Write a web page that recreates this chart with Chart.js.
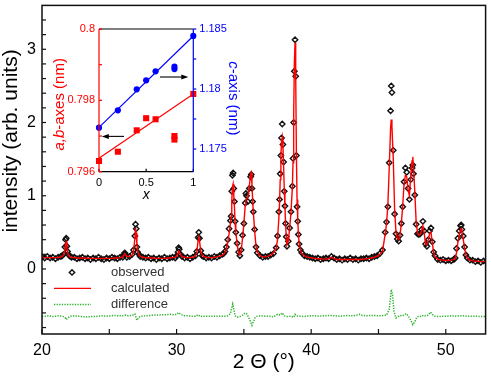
<!DOCTYPE html>
<html><head><meta charset="utf-8">
<script src="https://cdn.jsdelivr.net/npm/chart.js@4/dist/chart.umd.min.js"></script>
<style>
html,body{margin:0;padding:0;background:#fff;}
#wrap{position:relative;width:491px;height:378px;overflow:hidden;}
#main{position:absolute;left:0;top:0;}
#inset{position:absolute;left:40px;top:18px;}
</style>
</head><body>
<div id="wrap">
<canvas id="main" width="491" height="378"></canvas>
<canvas id="inset" width="220" height="192"></canvas>
</div>
<script>
// ---------- main pattern data ----------
const twoTheta = [
 20.0,20.2,20.4,20.6,20.8,21.0,21.2,21.4,
 21.5,21.6,21.7,21.75,21.8,21.85,21.9,22.0,22.1,22.2,
 22.4,22.6,22.8,23.0,23.2,23.4,23.6,23.8,24.0,24.2,24.4,24.6,24.8,25.0,25.2,25.4,25.6,25.8,
 26.0,26.1,26.15,26.2,26.3,26.5,26.7,26.8,26.9,26.95,27.0,27.05,27.1,27.2,27.3,27.5,
 27.7,27.9,28.1,28.3,28.5,28.7,28.9,29.1,29.3,29.5,29.7,29.9,
 30.0,30.1,30.15,30.2,30.3,30.4,
 30.6,30.8,31.0,31.2,31.4,
 31.5,31.6,31.65,31.7,31.8,31.9,32.0,32.2,
 32.4,32.6,32.8,33.0,33.2,33.4,
 33.5,33.6,33.7,33.8,33.9,34.0,34.05,34.1,34.15,34.2,34.25,34.3,34.35,34.4,34.5,34.6,34.7,34.8,34.9,35.0,
 35.1,35.15,35.2,35.3,35.4,35.5,35.55,35.6,35.65,35.7,35.8,35.9,36.0,36.2,36.4,36.6,36.8,37.0,37.2,37.4,
 37.5,37.6,37.65,37.7,37.75,37.8,37.85,37.9,37.95,38.0,38.05,38.1,38.15,38.2,38.3,38.4,38.5,38.6,38.65,38.7,
 38.75,38.8,38.85,38.9,38.95,39.0,39.05,39.1,39.2,39.3,39.5,39.7,
 39.9,40.1,40.3,40.5,40.7,40.9,41.1,41.3,41.5,41.7,41.9,42.1,42.3,42.5,42.7,42.9,43.1,43.3,43.5,43.7,43.9,44.1,44.3,44.5,44.7,44.9,45.1,
 45.3,45.5,45.6,45.7,45.8,45.9,45.95,46.0,46.1,46.2,
 46.3,46.4,46.5,46.6,46.7,46.8,46.9,47.0,47.1,47.2,
 47.3,47.4,47.5,47.55,47.6,47.7,47.8,47.9,48.0,48.1,
 48.2,48.3,48.4,48.5,48.6,48.7,48.8,48.9,49.0,49.1,49.2,49.4,49.6,
 49.8,50.0,50.2,50.4,50.6,
 50.7,50.8,50.9,51.0,51.1,51.15,51.2,51.3,51.4,51.5,51.6,51.8,
 52.0,52.2,52.4,52.6,52.8,53.0
];
const observed = [
 0.16,0.15,0.17,0.15,0.16,0.14,0.16,0.17,
 0.18,0.20,0.30,0.40,0.42,0.31,0.24,0.19,0.17,0.16,
 0.16,0.14,0.15,0.16,0.14,0.15,0.13,0.15,0.14,0.16,0.14,0.13,0.15,0.14,0.16,0.15,0.14,0.16,
 0.16,0.20,0.22,0.20,0.16,0.17,0.20,0.26,0.45,0.61,0.55,0.30,0.23,0.20,0.17,0.16,
 0.15,0.16,0.14,0.15,0.13,0.15,0.14,0.16,0.14,0.15,0.16,0.15,
 0.18,0.23,0.29,0.27,0.20,0.17,
 0.15,0.16,0.14,0.16,0.18,
 0.24,0.43,0.50,0.42,0.25,0.18,0.17,0.15,
 0.16,0.15,0.17,0.16,0.18,0.20,
 0.21,0.24,0.30,0.40,0.55,0.66,0.72,1.06,1.28,1.31,1.10,0.92,0.65,0.50,0.35,0.23,0.18,0.26,0.46,0.62,
 0.90,1.03,1.00,0.92,1.10,1.26,1.29,1.10,0.92,0.78,0.54,0.30,0.22,0.18,0.16,0.17,0.17,0.19,0.21,0.29,
 0.45,0.78,0.95,1.30,1.55,1.79,1.98,1.70,1.46,1.06,0.86,0.62,0.44,0.31,0.38,0.56,0.78,1.13,1.51,2.00,
 2.70,3.13,2.63,1.55,0.85,0.65,0.47,0.34,0.26,0.22,0.18,0.17,
 0.16,0.15,0.14,0.15,0.13,0.14,0.15,0.14,0.17,0.15,0.13,0.14,0.12,0.14,0.13,0.15,0.13,0.14,0.12,0.14,0.14,0.15,0.14,0.16,0.17,0.18,0.21,
 0.26,0.50,0.64,0.85,1.45,2.16,2.50,2.41,1.62,0.75,
 0.48,0.41,0.38,0.46,0.62,0.85,1.19,1.38,1.32,1.10,
 0.95,1.22,1.38,1.42,1.30,1.01,0.61,0.48,0.47,0.48,
 0.54,0.65,0.52,0.34,0.31,0.40,0.52,0.56,0.37,0.23,0.18,0.13,0.12,
 0.13,0.11,0.12,0.11,0.13,
 0.15,0.28,0.42,0.52,0.59,0.60,0.54,0.45,0.30,0.19,0.15,0.12,
 0.12,0.10,0.11,0.09,0.11,0.10
];
const calculated = [
 0.155,0.155,0.155,0.155,0.155,0.155,0.158,0.163,
 0.17,0.19,0.265,0.35,0.37,0.28,0.22,0.18,0.165,0.16,
 0.155,0.15,0.15,0.15,0.15,0.145,0.145,0.145,0.145,0.145,0.145,0.145,0.145,0.145,0.145,0.15,0.15,0.155,
 0.165,0.195,0.205,0.195,0.17,0.17,0.19,0.235,0.42,0.56,0.49,0.34,0.25,0.19,0.175,0.16,
 0.155,0.15,0.15,0.15,0.145,0.145,0.145,0.145,0.15,0.15,0.155,0.16,
 0.175,0.21,0.245,0.24,0.19,0.17,
 0.16,0.155,0.155,0.16,0.175,
 0.23,0.39,0.46,0.39,0.23,0.19,0.17,0.16,
 0.155,0.155,0.16,0.165,0.175,0.19,
 0.20,0.23,0.28,0.36,0.48,0.62,0.72,0.92,1.12,1.16,1.00,0.84,0.62,0.50,0.34,0.23,0.19,0.25,0.42,0.62,
 0.87,0.95,0.96,0.98,1.12,1.30,1.32,1.15,0.95,0.78,0.52,0.31,0.23,0.18,0.165,0.165,0.175,0.19,0.22,0.28,
 0.40,0.70,0.90,1.22,1.55,1.74,1.80,1.68,1.42,1.08,0.85,0.60,0.44,0.33,0.38,0.55,0.78,1.10,1.45,2.10,
 2.80,3.09,2.65,1.60,0.95,0.68,0.48,0.36,0.26,0.21,0.18,0.16,
 0.155,0.15,0.145,0.14,0.14,0.135,0.135,0.14,0.16,0.14,0.13,0.13,0.13,0.13,0.13,0.13,0.13,0.13,0.13,0.13,0.135,0.14,0.145,0.15,0.16,0.175,0.20,
 0.24,0.48,0.62,0.88,1.38,1.92,2.04,1.95,1.50,0.82,
 0.50,0.42,0.40,0.46,0.62,0.86,1.16,1.28,1.26,1.08,
 1.00,1.28,1.48,1.53,1.40,1.05,0.64,0.50,0.46,0.47,
 0.52,0.59,0.49,0.34,0.33,0.40,0.48,0.50,0.36,0.22,0.17,0.135,0.125,
 0.12,0.115,0.115,0.12,0.13,
 0.14,0.22,0.36,0.46,0.54,0.55,0.50,0.40,0.28,0.19,0.15,0.12,
 0.11,0.105,0.105,0.10,0.10,0.10
];
const diffTheta = [
 20.0,20.25,20.5,20.75,21.0,21.25,21.5,21.7,21.8,21.9,
 22.1,22.4,22.7,23.0,23.3,23.6,23.9,24.2,24.5,24.8,
 25.1,25.4,25.7,26.0,26.2,26.4,26.7,26.9,27.05,27.2,
 27.4,27.7,28.0,28.3,28.6,28.9,29.2,29.5,29.8,30.0,
 30.15,30.3,30.5,30.8,31.1,31.4,31.6,31.75,32.0,32.3,
 32.6,32.9,33.2,33.5,33.8,34.0,34.1,34.17,34.25,34.35,
 34.5,34.7,34.9,35.1,35.2,35.35,35.5,35.6,35.7,35.85,
 36.0,36.3,36.6,36.9,37.2,37.5,37.7,37.85,38.0,38.2,
 38.5,38.7,38.8,38.9,39.1,39.4,39.7,40.0,40.3,40.6,
 40.9,41.2,41.5,41.8,42.1,42.4,42.7,43.0,43.3,43.6,
 43.8,44.1,44.4,44.7,45.0,45.3,45.6,45.8,45.9,45.95,
 46.05,46.15,46.3,46.45,46.6,46.75,46.9,47.05,47.2,47.4,
 47.55,47.7,47.85,48.0,48.2,48.35,48.5,48.7,48.87,49.0,
 49.2,49.5,49.8,50.1,50.4,50.7,51.0,51.3,51.6,51.9,
 52.2,52.5,52.8,53.0
];
const difference = [
 -0.65,-0.645,-0.64,-0.65,-0.645,-0.64,-0.645,-0.66,-0.69,-0.67,
 -0.645,-0.64,-0.645,-0.65,-0.655,-0.65,-0.65,-0.645,-0.64,-0.645,
 -0.64,-0.635,-0.64,-0.64,-0.63,-0.64,-0.635,-0.615,-0.70,-0.66,
 -0.645,-0.64,-0.635,-0.63,-0.63,-0.625,-0.625,-0.62,-0.625,-0.62,
 -0.595,-0.62,-0.635,-0.64,-0.645,-0.645,-0.625,-0.65,-0.645,-0.645,
 -0.645,-0.645,-0.645,-0.645,-0.64,-0.61,-0.53,-0.48,-0.55,-0.64,
 -0.66,-0.65,-0.63,-0.60,-0.61,-0.66,-0.72,-0.77,-0.72,-0.66,
 -0.645,-0.64,-0.645,-0.645,-0.655,-0.62,-0.63,-0.60,-0.64,-0.65,
 -0.645,-0.66,-0.62,-0.64,-0.645,-0.65,-0.645,-0.64,-0.64,-0.645,
 -0.64,-0.635,-0.635,-0.64,-0.645,-0.64,-0.635,-0.64,-0.635,-0.62,
 -0.635,-0.64,-0.635,-0.635,-0.64,-0.635,-0.63,-0.55,-0.38,-0.28,
 -0.36,-0.58,-0.67,-0.65,-0.635,-0.64,-0.63,-0.61,-0.64,-0.70,
 -0.76,-0.72,-0.66,-0.645,-0.65,-0.63,-0.64,-0.63,-0.59,-0.62,
 -0.645,-0.65,-0.645,-0.645,-0.64,-0.645,-0.64,-0.64,-0.645,-0.645,
 -0.645,-0.65,-0.65,-0.65
];
const legendLabels = ['observed','calculated','difference'];
const xAxisTitle = '2 \u0398 (\u00b0)';
const yAxisTitle = 'intensity (arb. units)';
const xTickValues = [20,25,30,35,40,45,50];
const xLabelTicks = [20,30,40,50];
const yTickValues = [-0.8,-0.6,-0.4,-0.2,0,0.2,0.4,0.6,0.8,1,1.2,1.4,1.6,1.8,2,2.2,2.4,2.6,2.8,3,3.2,3.4];
const yLabelTicks = [0,1,2,3];

// ---------- inset data ----------
const insetX = [0,0.2,0.4,0.5,0.6,0.8,0.8,1];
const abAxes = [0.79630,0.79656,0.79716,0.79750,0.79747,0.79700,0.79690,0.79818];
const cAxisX = [0,0.2,0.4,0.5,0.6,0.8,0.8,1];
const cAxis = [1.17678,1.17822,1.17997,1.18072,1.18147,1.18186,1.18166,1.18442];
const abFitX = [0,1];
const abFit = [0.79638,0.79818];
const cFitX = [0,1];
const cFit = [1.17680,1.18442];
const insetXTicks = [0,0.5,1];
const abTicks = [0.796,0.797,0.798,0.799,0.8];
const abLabels = [0.796,0.798,0.8];
const cTicks = [1.175,1.1775,1.18,1.1825,1.185];
const cLabels = [1.175,1.18,1.185];

const FONT = "'Liberation Sans', Arial, Helvetica, sans-serif";
const RED = '#ff0000', BLUE = '#0000ff', GREEN = '#2db42d';

function fmt(v, list){ const hit = list.find(l=>Math.abs(l-v)<1e-7); return hit===undefined ? '' : String(hit); }
function noPad(s){ s.paddingTop=0; s.paddingBottom=0; s.paddingLeft=0; s.paddingRight=0; }
function setTicks(list){ return s=>{ s.ticks = list.map(v=>({value:v})); }; }

// ---------- main chart ----------
const mainFrame = {
  id:'mainFrame',
  afterDraw(chart){
    const {ctx, chartArea:a, scales:{x,y}} = chart;
    ctx.save();
    ctx.strokeStyle='#111'; ctx.lineWidth=1.5;
    ctx.strokeRect(a.left,a.top,a.right-a.left,a.bottom-a.top);
    ctx.lineWidth=1.2;
    x.ticks.forEach(t=>{
      const px=x.getPixelForValue(t.value);
      ctx.beginPath(); ctx.moveTo(px,a.bottom); ctx.lineTo(px,a.bottom-5); ctx.stroke();
    });
    y.ticks.forEach(t=>{
      const py=y.getPixelForValue(t.value);
      ctx.beginPath(); ctx.moveTo(a.left,py); ctx.lineTo(a.left+4,py); ctx.stroke();
    });
    ctx.fillStyle='#000'; ctx.font='21px '+FONT;
    ctx.textAlign='center'; ctx.textBaseline='middle';
    ctx.translate(11,141); ctx.rotate(-Math.PI/2);
    ctx.fillText(yAxisTitle,0,0);
    ctx.restore();
  }
};
const mainLegend = {
  id:'mainLegend',
  afterDraw(chart){
    const {ctx, chartArea:a} = chart;
    const ds = chart.data.datasets;
    const x0=a.left+12, x1=a.left+49, mx=a.left+30, tx=a.left+69;
    const rows=[a.top+267, a.top+283, a.top+299];
    ctx.save();
    const obs = ds.find(d=>d.label===legendLabels[0]);
    ctx.strokeStyle=obs.borderColor; ctx.lineWidth=obs.borderWidth;
    const r=obs.pointRadius;
    ctx.beginPath(); ctx.moveTo(mx,rows[0]-r); ctx.lineTo(mx+r,rows[0]); ctx.lineTo(mx,rows[0]+r); ctx.lineTo(mx-r,rows[0]); ctx.closePath(); ctx.stroke();
    const calc = ds.find(d=>d.label===legendLabels[1]);
    ctx.strokeStyle=calc.borderColor; ctx.lineWidth=calc.borderWidth;
    ctx.beginPath(); ctx.moveTo(x0,rows[1]); ctx.lineTo(x1,rows[1]); ctx.stroke();
    const dif = ds.find(d=>d.label===legendLabels[2]);
    ctx.strokeStyle=dif.borderColor; ctx.lineWidth=dif.borderWidth; ctx.setLineDash(dif.borderDash);
    ctx.beginPath(); ctx.moveTo(x0,rows[2]); ctx.lineTo(x1,rows[2]); ctx.stroke();
    ctx.setLineDash([]);
    ctx.fillStyle='#333'; ctx.font='13px '+FONT; ctx.textAlign='left'; ctx.textBaseline='middle';
    legendLabels.forEach((l,i)=>ctx.fillText(l,tx,rows[i]));
    ctx.restore();
  }
};

new Chart(document.getElementById('main'), {
  type:'line',
  data:{datasets:[
    {label:legendLabels[1], data:twoTheta.map((x,i)=>({x, y:calculated[i]})), borderColor:RED, borderWidth:1.4, pointRadius:0, fill:false, tension:0, order:0},
    {label:legendLabels[0], data:twoTheta.map((x,i)=>({x, y:observed[i]})), showLine:false, pointStyle:'rectRot', pointRadius:2.7, borderColor:'#111', borderWidth:1.4, backgroundColor:'rgba(255,255,255,0)', order:1},
    {label:legendLabels[2], data:diffTheta.map((x,i)=>({x, y:difference[i]})), borderColor:GREEN, borderWidth:1.5, borderDash:[1.3,1.3], pointRadius:0, fill:false, tension:0, order:2}
  ]},
  options:{
    responsive:false, animation:false, devicePixelRatio:1,
    layout:{padding:{left:0,right:4,top:2,bottom:0}},
    plugins:{legend:{display:false}, tooltip:{enabled:false}},
    scales:{
      x:{type:'linear', min:20, max:52.96,
         afterBuildTicks:setTicks(xTickValues),
         afterFit:s=>{s.height=44; noPad(s);},
         grid:{display:false, drawTicks:false}, border:{display:false},
         ticks:{autoSkip:false, maxRotation:0, padding:7, color:'#000', font:{family:FONT,size:16},
                callback:v=>fmt(v, xLabelTicks)},
         title:{display:true, text:xAxisTitle, color:'#000', font:{family:FONT,size:21}, padding:{top:0,bottom:3}}},
      y:{type:'linear', min:-0.888, max:3.599,
         afterBuildTicks:setTicks(yTickValues),
         afterFit:s=>{s.width=42; noPad(s);},
         grid:{display:false, drawTicks:false}, border:{display:false},
         ticks:{autoSkip:false, padding:6, color:'#000', font:{family:FONT,size:16},
                callback:v=>fmt(v, yLabelTicks)}}
    }
  },
  plugins:[mainFrame, mainLegend]
});

// ---------- inset chart ----------
const arrows = [
  {axis:'yL', from:0.265, to:0.03, at:0.79699},
  {axis:'yR', from:0.647, to:0.947, at:1.18100}
];
function drawMixed(ctx, parts, cx, cy, rot, size, color){
  ctx.save();
  ctx.translate(cx,cy); ctx.rotate(rot);
  ctx.fillStyle=color; ctx.textBaseline='middle'; ctx.textAlign='left';
  let total=0;
  parts.forEach(p=>{ ctx.font=(p.i?'italic ':'')+size+'px '+FONT; p.w=ctx.measureText(p.t).width; total+=p.w; });
  let xx=-total/2;
  parts.forEach(p=>{ ctx.font=(p.i?'italic ':'')+size+'px '+FONT; ctx.fillText(p.t,xx,0); xx+=p.w; });
  ctx.restore();
}
const insetDecor = {
  id:'insetDecor',
  afterDraw(chart){
    const {ctx, chartArea:a, scales:{x,yL,yR}} = chart;
    ctx.save();
    ctx.lineWidth=1.2;
    ctx.strokeStyle='#000';
    ctx.beginPath(); ctx.moveTo(a.left,a.top); ctx.lineTo(a.right,a.top); ctx.stroke();
    ctx.beginPath(); ctx.moveTo(a.left,a.bottom); ctx.lineTo(a.right,a.bottom); ctx.stroke();
    x.ticks.forEach(t=>{ const px=x.getPixelForValue(t.value);
      ctx.beginPath(); ctx.moveTo(px,a.bottom); ctx.lineTo(px,a.bottom-3); ctx.stroke(); });
    ctx.strokeStyle=RED;
    ctx.beginPath(); ctx.moveTo(a.left,a.top); ctx.lineTo(a.left,a.bottom); ctx.stroke();
    yL.ticks.forEach(t=>{ const py=yL.getPixelForValue(t.value);
      ctx.beginPath(); ctx.moveTo(a.left,py); ctx.lineTo(a.left+3,py); ctx.stroke(); });
    ctx.strokeStyle=BLUE;
    ctx.beginPath(); ctx.moveTo(a.right,a.top); ctx.lineTo(a.right,a.bottom); ctx.stroke();
    yR.ticks.forEach(t=>{ const py=yR.getPixelForValue(t.value);
      ctx.beginPath(); ctx.moveTo(a.right,py); ctx.lineTo(a.right+3,py); ctx.stroke(); });
    ctx.strokeStyle='#000'; ctx.fillStyle='#000'; ctx.lineWidth=1.1;
    arrows.forEach(ar=>{
      const sc = chart.scales[ar.axis];
      const py = sc.getPixelForValue(ar.at);
      const p0 = x.getPixelForValue(ar.from), p1 = x.getPixelForValue(ar.to);
      const dir = Math.sign(p1-p0);
      ctx.beginPath(); ctx.moveTo(p0,py); ctx.lineTo(p1-dir*6,py); ctx.stroke();
      ctx.beginPath(); ctx.moveTo(p1,py); ctx.lineTo(p1-dir*7,py-2.5); ctx.lineTo(p1-dir*7,py+2.5); ctx.closePath(); ctx.fill();
    });
    const cy=(a.top+a.bottom)/2;
    drawMixed(ctx,[{t:'a,b',i:true},{t:'-axes (nm)',i:false}], a.left-39, cy+4, -Math.PI/2, 15, RED);
    drawMixed(ctx,[{t:'c',i:true},{t:'-axis (nm)',i:false}], a.right+40, cy-2, Math.PI/2, 15, BLUE);
    ctx.fillStyle='#000'; ctx.font='italic 14px '+FONT; ctx.textAlign='center'; ctx.textBaseline='middle';
    ctx.fillText('x',(a.left+a.right)/2, a.bottom+23);
    ctx.restore();
  }
};
new Chart(document.getElementById('inset'), {
  type:'line',
  data:{datasets:[
    {label:'ab-fit', data:abFitX.map((x,i)=>({x,y:abFit[i]})), yAxisID:'yL', borderColor:RED, borderWidth:1.2, pointRadius:0, fill:false, clip:false},
    {label:'c-fit', data:cFitX.map((x,i)=>({x,y:cFit[i]})), yAxisID:'yR', borderColor:BLUE, borderWidth:1.2, pointRadius:0, fill:false, clip:false},
    {label:'a,b-axes', data:insetX.map((x,i)=>({x,y:abAxes[i]})), yAxisID:'yL', showLine:false, pointStyle:'rect', pointRadius:4.3, backgroundColor:RED, borderColor:RED, borderWidth:0, clip:false},
    {label:'c-axis', data:cAxisX.map((x,i)=>({x,y:cAxis[i]})), yAxisID:'yR', showLine:false, pointStyle:'circle', pointRadius:3.1, backgroundColor:BLUE, borderColor:BLUE, borderWidth:0, clip:false}
  ]},
  options:{
    responsive:false, animation:false, devicePixelRatio:1,
    layout:{padding:{left:0,right:0,top:11,bottom:0}},
    plugins:{legend:{display:false}, tooltip:{enabled:false}},
    scales:{
      x:{type:'linear', min:0, max:1, afterBuildTicks:setTicks(insetXTicks), afterFit:s=>{s.height=38.3; noPad(s);},
         grid:{display:false, drawTicks:false}, border:{display:false},
         ticks:{autoSkip:false, maxRotation:0, padding:5, color:'#000', font:{family:FONT,size:11},
                callback:v=>fmt(v, insetXTicks)}},
      yL:{type:'linear', position:'left', min:0.796, max:0.8, afterBuildTicks:setTicks(abTicks), afterFit:s=>{s.width=59; noPad(s);},
          grid:{display:false, drawTicks:false}, border:{display:false},
          ticks:{autoSkip:false, padding:4, color:RED, font:{family:FONT,size:11},
                 callback:v=>fmt(v, abLabels)}},
      yR:{type:'linear', position:'right', min:1.17311, max:1.185, afterBuildTicks:setTicks(cTicks), afterFit:s=>{s.width=66.7; noPad(s);},
          grid:{display:false, drawTicks:false}, border:{display:false},
          ticks:{autoSkip:false, padding:6, color:BLUE, font:{family:FONT,size:11},
                 callback:v=>fmt(v, cLabels)}}
    }
  },
  plugins:[insetDecor]
});
</script>
</body></html>
